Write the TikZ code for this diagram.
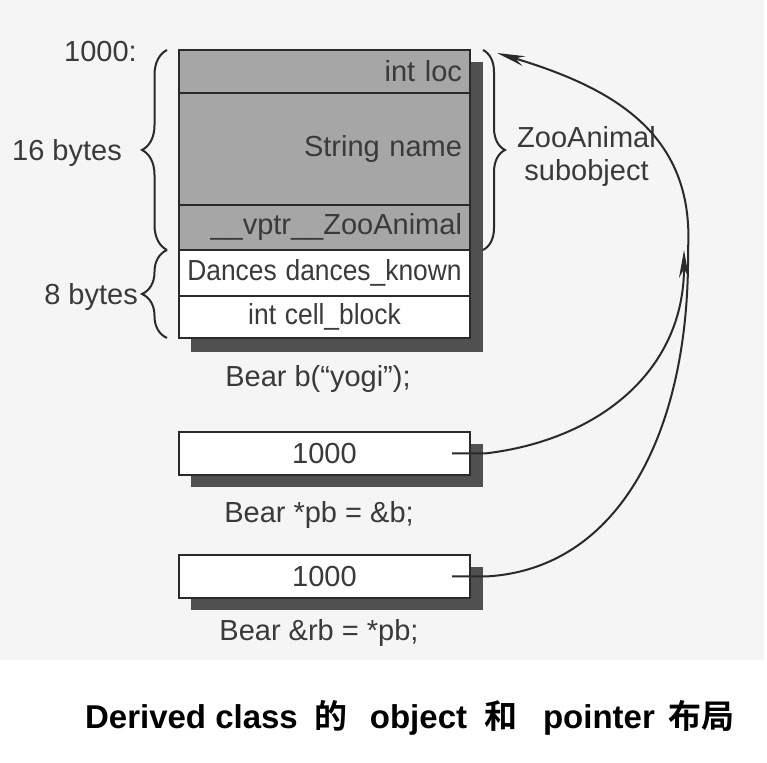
\documentclass[tikz,border=0pt]{standalone}
\usepackage{fontspec}
\usepackage{graphicx}
\setmainfont{Liberation Sans}
\newfontfamily\cjk{Noto Sans CJK SC}[BoldFont={Noto Sans CJK SC Bold}]
\usetikzlibrary{arrows.meta,calc,decorations.pathreplacing,positioning}
\definecolor{bgcol}{HTML}{F5F5F5}
\definecolor{basecol}{HTML}{A6A6A6}
\definecolor{shadowcol}{HTML}{505050}
\definecolor{linecol}{HTML}{2A2A2A}
\definecolor{txtcol}{HTML}{3A3A3A}
\newcommand\lbl{\fontsize{29}{33}\selectfont}
\newcommand\titlefnt{\fontsize{33}{38}\selectfont\bfseries}
\newcommand\squeeze[1]{\scalebox{0.91}[1]{#1}}
\tikzset{%
	field/.style      = {draw=linecol, line width=2.5pt, rectangle, inner xsep=8pt, text width=275pt, outer sep=0pt, font=\lbl, text=txtcol},
	basefield/.style  = {field, fill=basecol, align=right}, % ZooAnimal part
	derivfield/.style = {field, fill=white, align=center}, % Bear part
	ptrbox/.style     = {field, fill=white, align=center, minimum height=43pt},
	dropshadow/.style = {fill=shadowcol},
	txt/.style        = {font=\lbl, text=txtcol, inner sep=0pt},
	bracedec/.style   = {decorate, decoration={brace, amplitude=#1}, line width=2pt, draw=linecol},
	arrow/.style      = {line width=2pt, draw=linecol, -{Stealth[length=28pt, width=10pt]}},
}
\begin{document}
\begin{tikzpicture}[x=1pt,y=1pt]
	\useasboundingbox (0,0) rectangle (767,762);
	\fill[bgcol] (0,102) rectangle (764,762);
	% shadows
	\fill[dropshadow] (191,410) rectangle (483,700);
	\fill[dropshadow] (191,275) rectangle (483,318);
	\fill[dropshadow] (191,152) rectangle (483,195);

	% the Bear object
	\node [basefield, minimum height=43pt] (loc) at (324.5,690.5) {int loc};
	\node [basefield, minimum height=112pt] (name) [below=0pt of loc] {String name};
	\node [basefield, minimum height=45pt] (vptr) [below=0pt of name] {\_\_vptr\_\_ZooAnimal};
	\node [derivfield, minimum height=46pt] (dances) [below=0pt of vptr] {\squeeze{Dances dances\_known}};
	\node [derivfield, minimum height=42pt] (cell) [below=0pt of dances] {\squeeze{int cell\_block}};
	\node [txt] (bdecl) at (318,383) {Bear b(“yogi”);};

	% sizes
	\coordinate (tip16) at (142,609);
	\coordinate (tip8) at (142,465);
	\coordinate (tipza) at (505,612);
	\draw[bracedec=25pt] (167,512) -- (167,712);
	\draw[bracedec=25pt] (167,424) -- (167,512);
	\draw[bracedec=22pt] (483,712) -- (483,512);
	\node [txt, anchor=east] (addr) at (137,710) {1000:};
	\node [txt, left=20pt of tip16] (sz16) {16 bytes};
	\node [txt, left=4pt of tip8] (sz8) {8 bytes};
	\node [txt, right=12pt of tipza, yshift=-7pt, align=center] (sub) {ZooAnimal\\subobject};

	% pointer and reference
	\node [ptrbox] (pb) at (324.5,308.5) {1000};
	\node [txt] (pbdecl) at (319,247) {Bear *pb = \&b;};
	\node [ptrbox] (rb) at (324.5,185.5) {1000};
	\node [txt] (rbdecl) at (319,129) {Bear \&rb = *pb;};
	\coordinate (pbval) at ($(pb.east)+(-18,0)$);
	\coordinate (rbval) at ($(rb.east)+(-18,0)$);
	\coordinate (hit) at (684,512);
	\coordinate (objtop) at (497,709);

	\draw[arrow] (pbval) -- ++(33,0) .. controls (600,322) and (684,392) .. (hit);
	\draw[arrow] (rbval) -- ++(33,0) .. controls (620,192) and (690,332) .. (688,512)
		.. controls (695,630) and (610,675) .. (objtop);

	% caption
	\node [font=\titlefnt] (title) at (410,44) {Derived class\hspace{17pt}{\cjk 的}\hspace{22pt}object\hspace{17pt}{\cjk 和}\hspace{26pt}pointer\hspace{14pt}{\cjk 布局}};
\end{tikzpicture}
\end{document}
